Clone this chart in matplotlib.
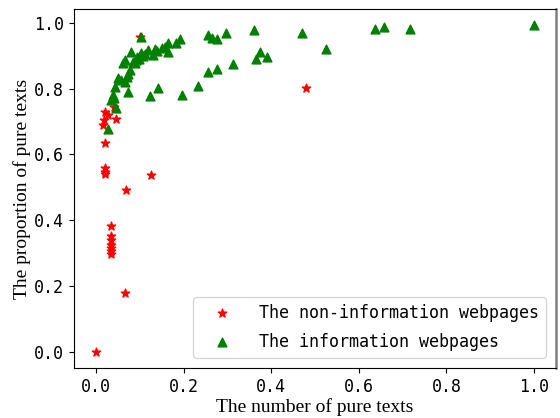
import matplotlib.pyplot as plt

# non-information webpages (red stars)
non_info_x = [0.0, 0.066, 0.069, 0.125,
              0.034, 0.034, 0.034, 0.034, 0.034, 0.034, 0.034,
              0.022, 0.020, 0.022, 0.022, 0.016, 0.018, 0.028, 0.022,
              0.045, 0.041, 0.100, 0.480]
non_info_y = [0.0, 0.177, 0.491, 0.537,
              0.383, 0.352, 0.338, 0.325, 0.315, 0.305, 0.298,
              0.557, 0.545, 0.540, 0.633, 0.689, 0.704, 0.720, 0.730,
              0.707, 0.745, 0.958, 0.803]

# information webpages (green triangles)
info_x = [0.103, 0.192, 0.184, 0.165, 0.157, 0.164, 0.135, 0.119, 0.131, 0.103,
          0.081, 0.066, 0.062, 0.095, 0.107, 0.113, 0.089, 0.077, 0.073, 0.051,
          0.058, 0.066, 0.043, 0.039, 0.035, 0.042, 0.073, 0.123, 0.142, 0.196,
          0.047, 0.028, 0.085, 0.092, 0.070, 0.098, 0.150, 0.140,
          0.234, 0.257, 0.277, 0.312, 0.257, 0.264, 0.277, 0.296, 0.360,
          0.375, 0.366, 0.390, 0.470, 0.526, 0.638, 0.657, 0.717, 1.0]
info_y = [0.958, 0.950, 0.938, 0.938, 0.926, 0.912, 0.920, 0.918, 0.902, 0.908,
          0.912, 0.887, 0.878, 0.896, 0.900, 0.905, 0.877, 0.857, 0.843, 0.831,
          0.826, 0.821, 0.806, 0.780, 0.765, 0.770, 0.791, 0.777, 0.803, 0.780,
          0.740, 0.677, 0.882, 0.888, 0.836, 0.890, 0.923, 0.915,
          0.808, 0.850, 0.860, 0.874, 0.963, 0.953, 0.950, 0.968, 0.979,
          0.912, 0.889, 0.897, 0.968, 0.921, 0.981, 0.986, 0.981, 0.992]

fig = plt.figure(figsize=(5.6, 4.18), dpi=100)
ax = fig.add_axes([0.132, 0.12, 0.861, 0.858])

ax.scatter(non_info_x, non_info_y, marker='*', c='red', s=40,
           label='The non-information webpages')
ax.scatter(info_x, info_y, marker='^', c='green', s=40,
           label='The information webpages')

ax.set_xticks([0.0, 0.2, 0.4, 0.6, 0.8, 1.0])
ax.set_yticks([0.0, 0.2, 0.4, 0.6, 0.8, 1.0])
for lab in ax.get_xticklabels() + ax.get_yticklabels():
    lab.set_fontfamily('DejaVu Sans Mono')
    lab.set_fontsize(12)

ax.set_xlabel('The number of pure texts', fontfamily='Liberation Serif', fontsize=14, labelpad=2)
ax.set_ylabel('The proportion of pure texts', fontfamily='Liberation Serif', fontsize=14, labelpad=2)

ax.spines['right'].set_color('#808080')
ax.spines['right'].set_linewidth(1.8)

ax.legend(loc='lower right', prop={'family': 'DejaVu Sans Mono', 'size': 12},
          handlelength=2.67, handletextpad=0.88, labelspacing=0.68,
          borderaxespad=0.62)

plt.savefig('out.png', dpi=100)
